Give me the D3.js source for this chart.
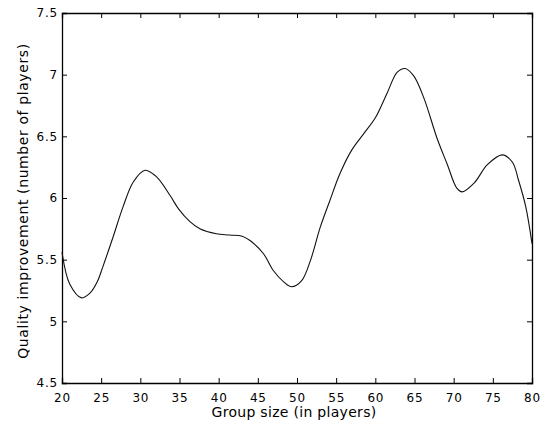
<!DOCTYPE html>
<html>
<head>
<meta charset="utf-8">
<script src="https://cdn.jsdelivr.net/npm/d3@7"></script>
<style>
  body { margin: 0; background: #fff; }
  svg text { font-family: "DejaVu Sans", sans-serif; fill: #000; }
</style>
</head>
<body>
<div id="chart"></div>
<script>
// values
const groupSize = [20, 21.0, 22.5, 23.6, 24.5, 25.2, 26.5, 27.8, 29.1, 30.6, 32.1, 33.8, 34.9, 36.3, 37.6, 39.7, 41.4, 43.0,
                   44.0, 45.7, 47.0, 48.3, 49.3, 50.6, 51.7, 52.95, 54.2, 55.5, 57.0, 58.5, 60.0, 61.5, 62.8,
                   63.8, 64.9, 66.2, 67.9, 69.2, 70.4, 71.1, 72.6, 74.3, 76.2, 77.5, 78.3, 79.2, 80];
const improvement = [5.56, 5.30, 5.19, 5.23, 5.32, 5.44, 5.68, 5.93, 6.13, 6.225, 6.17, 6.02, 5.91, 5.81, 5.75, 5.71, 5.70, 5.69,
                     5.655, 5.55, 5.41, 5.32, 5.28, 5.33, 5.49, 5.76, 5.98, 6.20, 6.39, 6.52, 6.65, 6.85, 7.02,
                     7.05, 6.99, 6.81, 6.48, 6.27, 6.08, 6.05, 6.12, 6.27, 6.35, 6.29, 6.14, 5.93, 5.63];
const xTicks = [20, 25, 30, 35, 40, 45, 50, 55, 60, 65, 70, 75, 80];
const yTicks = [4.5, 5, 5.5, 6, 6.5, 7, 7.5];

const W = 544, H = 424;
const margin = {top: 13, right: 12, bottom: 41, left: 62};
const width = W - margin.left - margin.right,
      height = H - margin.top - margin.bottom;

const svg = d3.select("#chart").append("svg")
    .attr("width", W)
    .attr("height", H);

const g = svg.append("g")
    .attr("transform", `translate(${margin.left},${margin.top})`);

const x = d3.scaleLinear().domain([20, 80]).range([0, width]);
const y = d3.scaleLinear().domain([4.5, 7.5]).range([height, 0]);

const tickLen = 5;

// bottom axis, ticks pointing in
g.append("g")
    .attr("transform", `translate(0,${height})`)
    .call(d3.axisBottom(x).tickValues(xTicks).tickSize(-tickLen).tickPadding(10).tickFormat(d3.format("d")));
// top ticks
g.append("g")
    .call(d3.axisTop(x).tickValues(xTicks).tickSize(-tickLen).tickFormat(""));
// left axis
g.append("g")
    .call(d3.axisLeft(y).tickValues(yTicks).tickSize(-tickLen).tickPadding(4).tickFormat(d => String(d)));
// right ticks
g.append("g")
    .attr("transform", `translate(${width},0)`)
    .call(d3.axisRight(y).tickValues(yTicks).tickSize(-tickLen).tickFormat(""));

g.selectAll(".domain").attr("stroke", "#000").attr("stroke-width", 1.3);
g.selectAll(".tick line").attr("stroke", "#000");
g.selectAll(".tick text")
    .attr("font-size", 12)
    .attr("font-family", "DejaVu Sans, sans-serif")
    .attr("letter-spacing", 0.8)
    .attr("fill", "#000");

const line = d3.line()
    .x((d, i) => x(groupSize[i]))
    .y(d => y(d))
    .curve(d3.curveCatmullRom.alpha(0.5));

g.append("path")
    .datum(improvement)
    .attr("fill", "none")
    .attr("stroke", "#111")
    .attr("stroke-width", 1.1)
    .attr("d", line);

svg.append("text")
    .attr("x", margin.left + width / 2 - 3)
    .attr("y", 417)
    .attr("text-anchor", "middle")
    .attr("font-size", 14)
    .attr("letter-spacing", 0.3)
    .text("Group size (in players)");

svg.append("text")
    .attr("transform", `translate(28,${margin.top + height / 2 + 3}) rotate(-90)`)
    .attr("text-anchor", "middle")
    .attr("font-size", 14)
    .attr("letter-spacing", 0.6)
    .text("Quality improvement (number of players)");
</script>
</body>
</html>
